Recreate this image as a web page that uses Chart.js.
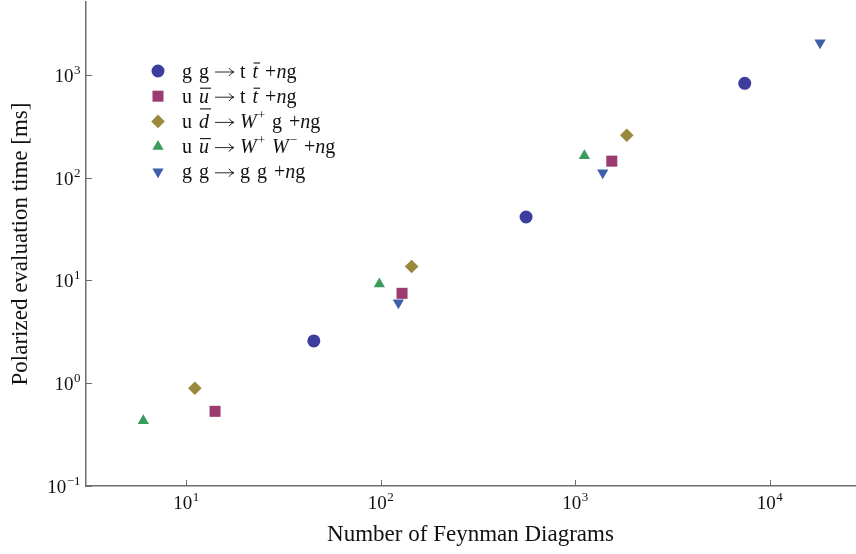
<!DOCTYPE html>
<html>
<head>
<meta charset="utf-8">
<title>Polarized evaluation time</title>
<script src="https://cdn.jsdelivr.net/npm/chart.js@4.4.1/dist/chart.umd.min.js"></script>
<style>
	html, body { margin: 0; padding: 0; background: #fff; }
</style>
</head>
<body>
<canvas id="timingChart" width="856" height="554"></canvas>
<script>
// Number of Feynman diagrams (x) and polarized evaluation time in ms (y) per process
const ggttDiagrams = [45.4, 560, 7455];
const ggttTime = [2.58, 41.5, 830];
const uuttDiagrams = [14.1, 129, 1545];
const uuttTime = [0.533, 7.5, 145];
const udWgDiagrams = [11.1, 144.5, 1845];
const udWgTime = [0.893, 13.7, 259];
const uuWWDiagrams = [6.03, 98.6, 1117];
const uuWWTime = [0.432, 9.25, 164];
const ggggDiagrams = [123.5, 1388, 18180];
const ggggTime = [6.08, 112, 2061];

const processNames = [
	"g g → t t̄ +ng",
	"u ū → t t̄ +ng",
	"u d̄ → W⁺ g +ng",
	"u ū → W⁺ W⁻ +ng",
	"g g → g g +ng",
];

// legend text pieces: [text, flags]  i = italic, b = overbar, s = superscript,
// "_" is a word space and "→" is drawn as a TeX style arrow
const legendPieces = [
	[["g"], ["_"], ["g"], ["→"], ["t"], ["_"], ["t", "ib"], ["_"], ["+"], ["n", "i"], ["g"]],
	[["u"], ["_"], ["u", "ib"], ["→"], ["t"], ["_"], ["t", "ib"], ["_"], ["+"], ["n", "i"], ["g"]],
	[["u"], ["_"], ["d", "ibd"], ["→"], ["W", "i"], ["+", "s"], ["_"], ["g"], ["_"], ["+"], ["n", "i"], ["g"]],
	[["u"], ["_"], ["u", "ib"], ["→"], ["W", "i"], ["+", "s"], ["_"], ["W", "i"], ["−", "s"], ["_"], ["+"], ["n", "i"], ["g"]],
	[["g"], ["_"], ["g"], ["→"], ["g"], ["_"], ["g"], ["_"], ["+"], ["n", "i"], ["g"]],
];

const xTickValues = [10, 100, 1000, 10000];
const xTickExponents = ["1", "2", "3", "4"];
const yTickValues = [0.1, 1, 10, 100, 1000];
const yTickExponents = ["−1", "0", "1", "2", "3"];

const xRange = [3.06, 27500];
const yRange = [0.1, 5130];

const colors = ["#3d3d9d", "#9b3b70", "#9a883c", "#3a9b5b", "#3d5ea8"];
const serif = "'Liberation Serif', 'DejaVu Serif', serif";
const axisColor = "#6e6e6e";

function toPoints(xs, ys) {
	return xs.map((v, i) => ({ x: v, y: ys[i] }));
}

const seriesX = [ggttDiagrams, uuttDiagrams, udWgDiagrams, uuWWDiagrams, ggggDiagrams];
const seriesY = [ggttTime, uuttTime, udWgTime, uuWWTime, ggggTime];
const markerStyles = [
	{ pointStyle: "circle", radius: 6.5, rotation: 0 },
	{ pointStyle: "rect", radius: 7.8, rotation: 0 },
	{ pointStyle: "rectRot", radius: 6.8, rotation: 0 },
	{ pointStyle: "triangle", radius: 6.5, rotation: 0 },
	{ pointStyle: "triangle", radius: 6.5, rotation: 180 },
];

const datasets = processNames.map((name, i) => ({
	label: name,
	data: toPoints(seriesX[i], seriesY[i]),
	pointStyle: markerStyles[i].pointStyle,
	pointRadius: markerStyles[i].radius,
	pointRotation: markerStyles[i].rotation,
	pointBackgroundColor: colors[i],
	pointBorderWidth: 0,
	showLine: false,
}));

// "10" with a raised exponent, used for the decade tick labels
function drawPower(ctx, exp, x, baseline, align) {
	ctx.font = "19px " + serif;
	const wBase = ctx.measureText("10").width;
	ctx.font = "13px " + serif;
	const wExp = ctx.measureText(exp).width;
	let start = align === "center" ? x - (wBase + wExp) / 2 : x - wBase - wExp;
	ctx.textAlign = "left";
	ctx.textBaseline = "alphabetic";
	ctx.font = "19px " + serif;
	ctx.fillText("10", start, baseline);
	ctx.font = "13px " + serif;
	ctx.fillText(exp, start + wBase + 0.5, baseline - 8);
}

const axisDecor = {
	id: "axisDecor",
	afterDraw(chart) {
		const { ctx, chartArea } = chart;
		const xs = chart.scales.x;
		const ys = chart.scales.y;
		ctx.save();
		ctx.strokeStyle = axisColor;
		ctx.lineWidth = 1;
		ctx.beginPath();
		xs.ticks.forEach((t) => {
			const px = Math.round(xs.getPixelForValue(t.value)) + 0.5;
			ctx.moveTo(px, chartArea.bottom);
			ctx.lineTo(px, chartArea.bottom - 6);
		});
		ys.ticks.forEach((t) => {
			const py = Math.round(ys.getPixelForValue(t.value)) + 0.5;
			ctx.moveTo(chartArea.left, py);
			ctx.lineTo(chartArea.left + 6, py);
		});
		ctx.stroke();

		ctx.fillStyle = "#111";
		xs.ticks.forEach((t, i) => {
			drawPower(ctx, xTickExponents[i], xs.getPixelForValue(t.value), chartArea.bottom + 23, "center");
		});
		ys.ticks.forEach((t, i) => {
			drawPower(ctx, yTickExponents[i], chartArea.left - 6, ys.getPixelForValue(t.value) + 7, "right");
		});
		ctx.restore();
	},
};

function drawArrow(ctx, x, baseline) {
	const y = baseline - 5.5;
	ctx.lineWidth = 0.9;
	ctx.beginPath();
	ctx.moveTo(x, y);
	ctx.lineTo(x + 18.5, y);
	ctx.moveTo(x + 14, y - 4);
	ctx.quadraticCurveTo(x + 15.5, y - 1, x + 19, y);
	ctx.quadraticCurveTo(x + 15.5, y + 1, x + 14, y + 4);
	ctx.stroke();
}

const richLegend = {
	id: "richLegend",
	afterDraw(chart) {
		const ctx = chart.ctx;
		const markerX = 158;
		const textX = 182;
		const firstRow = 71;
		const rowStep = 25.2;
		ctx.save();
		chart.data.datasets.forEach((ds, i) => {
			const cy = firstRow + i * rowStep;
			ctx.fillStyle = colors[i];
			Chart.helpers.drawPoint(ctx, {
				pointStyle: ds.pointStyle,
				radius: ds.pointRadius,
				rotation: ds.pointRotation,
				borderWidth: 0,
			}, markerX, cy);

			const baseline = cy + 6.5;
			let x = textX;
			ctx.fillStyle = "#111";
			ctx.strokeStyle = "#111";
			ctx.textAlign = "left";
			ctx.textBaseline = "alphabetic";
			legendPieces[i].forEach(([text, flags = ""]) => {
				if (text === "_") {
					x += 7;
					return;
				}
				if (text === "→") {
					drawArrow(ctx, x + 6, baseline);
					x += 31;
					return;
				}
				if (flags.includes("s")) {
					ctx.font = "13px " + serif;
					ctx.fillText(text, x + 1, baseline - 9);
					x += ctx.measureText(text).width + 1;
					return;
				}
				const italic = flags.includes("i") ? "italic " : "";
				ctx.font = italic + "20px " + serif;
				const w = ctx.measureText(text).width;
				ctx.fillText(text, x, baseline);
				if (flags.includes("b")) {
					const barY = flags.includes("d") ? baseline - 19 : baseline - 14.5;
					ctx.lineWidth = 1.1;
					ctx.beginPath();
					ctx.moveTo(x + 1, barY);
					ctx.lineTo(x + w + 2, barY);
					ctx.stroke();
				}
				x += w;
			});
		});
		ctx.restore();
	},
};

new Chart(document.getElementById("timingChart"), {
	type: "scatter",
	data: { datasets },
	options: {
		responsive: false,
		animation: false,
		events: [],
		layout: { autoPadding: false, padding: { top: 2, right: 1, left: 0, bottom: 0 } },
		plugins: {
			legend: { display: false },
			tooltip: { enabled: false },
		},
		scales: {
			x: {
				type: "logarithmic",
				min: xRange[0],
				max: xRange[1],
				afterBuildTicks: (scale) => {
					scale.ticks = xTickValues.map((v) => ({ value: v }));
				},
				afterFit: (scale) => {
					scale.height = 68;
				},
				ticks: { display: false },
				grid: { display: false },
				border: { display: true, color: axisColor, width: 1.5 },
				title: {
					display: true,
					text: "Number of Feynman Diagrams",
					color: "#111",
					font: { family: serif, size: 23 },
					padding: { top: 0, bottom: 5 },
				},
			},
			y: {
				type: "logarithmic",
				min: yRange[0],
				max: yRange[1],
				afterBuildTicks: (scale) => {
					scale.ticks = yTickValues.map((v) => ({ value: v }));
				},
				afterFit: (scale) => {
					scale.width = 86;
				},
				ticks: { display: false },
				grid: { display: false },
				border: { display: true, color: axisColor, width: 1.5 },
				title: {
					display: true,
					text: "Polarized evaluation time [ms]",
					color: "#111",
					font: { family: serif, size: 23 },
					padding: { top: 7, bottom: 0 },
				},
			},
		},
	},
	plugins: [axisDecor, richLegend],
});
</script>
</body>
</html>
